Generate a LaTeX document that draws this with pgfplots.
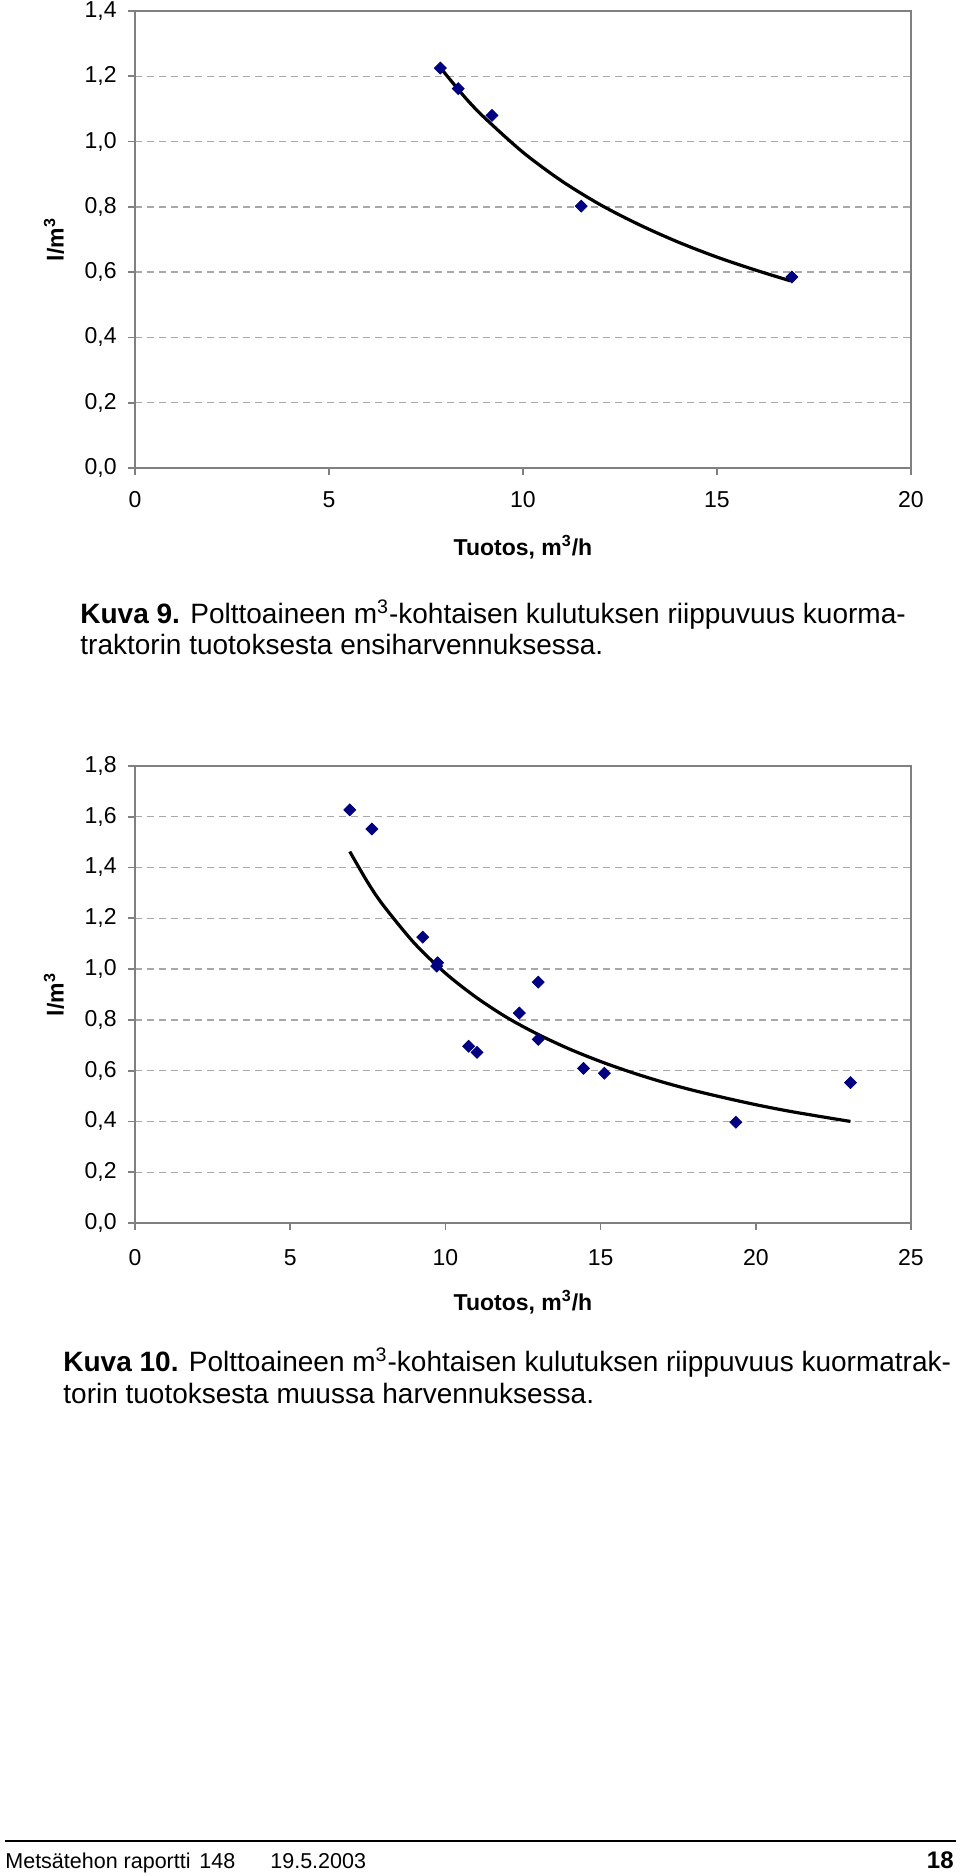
\documentclass[border=0pt]{standalone}
\usepackage{fontspec}
\setmainfont{Liberation Sans}
\usepackage{pgfplots}
\pgfplotsset{compat=1.18}
\definecolor{navy}{HTML}{000080}
\definecolor{axgray}{HTML}{808080}
\definecolor{gridgray}{HTML}{A8A8A8}

\newcommand{\lblfont}{\bfseries\fontsize{11.5}{13}\selectfont}

\pgfplotsset{excel/.style={
  scale only axis, width=388pt, height=228.5pt,
  axis line style={axgray, line width=0.85pt},
  every tick/.style={axgray, line width=0.85pt},
  tick align=outside, major tick length=3.5pt, tick pos=left,
  ymajorgrids, major grid style={gridgray, dash pattern=on 3.5pt off 2.5pt, line width=0.7pt},
  ymin=0, xmin=0,
  /pgf/number format/assume math mode=true,
  tick label style={font=\fontsize{11.5}{13}\selectfont},
  yticklabel style={anchor=east, inner sep=0pt, xshift=-5.5pt},
  xticklabel style={anchor=center, inner sep=0pt},
  xlabel={Tuotos, m\textsuperscript{3}/h},
  ylabel={l/m\textsuperscript{3}},
  every axis y label/.style={at={(axis description cs:-0.1044,0.5)}, rotate=90, anchor=center, font=\lblfont},
  clip=false,
}}

\pgfplotstableread{
x y
7.87 1.225
8.33 1.162
9.20 1.080
11.50 0.802
16.93 0.585
}\dataA
\pgfplotstableread{
x y
7.9 1.222
8.5 1.136
9 1.074
10 0.967
11 0.879
12 0.806
13 0.745
14 0.692
15 0.646
16 0.606
16.9 0.573
}\trendA
\pgfplotstableread{
x y
6.92 1.627
7.63 1.552
9.27 1.126
9.75 1.025
9.72 1.012
10.75 0.696
11.02 0.672
12.38 0.827
12.99 0.949
12.99 0.723
14.45 0.609
15.12 0.590
19.36 0.397
23.05 0.553
}\dataB
\pgfplotstableread{
x y
6.92 1.463
7.5 1.341
8 1.251
9 1.102
10 0.984
11 0.888
12 0.808
13 0.742
14 0.685
15 0.636
16 0.593
17 0.555
18 0.522
19 0.493
20 0.466
21 0.442
22 0.421
23.05 0.400
}\trendB

\begin{document}
\begin{tikzpicture}
\fill[white] (0,0) rectangle (480pt,938pt);
\path[use as bounding box] (0,0) rectangle (480pt,938pt);

% Top chart
\begin{axis}[excel, at={(67.5pt,704pt)}, anchor=south west,
  xmax=20, ymax=1.4,
  xtick={0,5,10,15,20},
  ytick={0,0.2,0.4,0.6,0.8,1.0,1.2,1.4},
  yticklabels={{0,0},{0,2},{0,4},{0,6},{0,8},{1,0},{1,2},{1,4}},
  xticklabel style={yshift=-12.5pt},
  every axis x label/.style={at={(axis description cs:0.5,-0.1732)}, anchor=center, font=\lblfont},
]
\addplot[black, line width=1.6pt, smooth] table[x=x,y=y] {\trendA};
\addplot[only marks, mark=square*, mark size=2.1pt, mark options={rotate=45, fill=navy, draw=navy}] table[x=x,y=y] {\dataA};
\end{axis}

% Bottom chart
\begin{axis}[excel, at={(67.5pt,326.5pt)}, anchor=south west,
  xmax=25, ymax=1.8,
  xtick={0,5,10,15,20,25},
  ytick={0,0.2,0.4,0.6,0.8,1.0,1.2,1.4,1.6,1.8},
  yticklabels={{0,0},{0,2},{0,4},{0,6},{0,8},{1,0},{1,2},{1,4},{1,6},{1,8}},
  xticklabel style={yshift=-14pt},
  every axis x label/.style={at={(axis description cs:0.5,-0.1729)}, anchor=center, font=\lblfont},
]
\addplot[black, line width=1.6pt, smooth] table[x=x,y=y] {\trendB};
\addplot[only marks, mark=square*, mark size=2.1pt, mark options={rotate=45, fill=navy, draw=navy}] table[x=x,y=y] {\dataB};
\end{axis}

% Captions
\begingroup
\fontsize{14}{15.5}\selectfont
\node[anchor=base west, inner sep=0pt] at (40pt,626pt) {\textbf{Kuva 9.} Polttoaineen m\textsuperscript{3}-kohtaisen kulutuksen riippuvuus kuorma-};
\node[anchor=base west, inner sep=0pt] at (40pt,610.5pt) {traktorin tuotoksesta ensiharvennuksessa.};
\node[anchor=base west, inner sep=0pt] at (31.5pt,252pt) {\textbf{Kuva 10.} Polttoaineen m\textsuperscript{3}-kohtaisen kulutuksen riippuvuus kuormatrak-};
\node[anchor=base west, inner sep=0pt] at (31.5pt,236pt) {torin tuotoksesta muussa harvennuksessa.};
\endgroup

% Footer
\draw[black, line width=1pt] (2.5pt,17.5pt) -- (478pt,17.5pt);
\node[anchor=base west, inner sep=0pt, font=\fontsize{10.75}{12}\selectfont] at (2.5pt,3.5pt) {Metsätehon raportti};
\node[anchor=base west, inner sep=0pt, font=\fontsize{10.75}{12}\selectfont] at (99.5pt,3.5pt) {148};
\node[anchor=base west, inner sep=0pt, font=\fontsize{10.75}{12}\selectfont] at (135pt,3.5pt) {19.5.2003};
\node[anchor=base east, inner sep=0pt, font=\bfseries\fontsize{12}{13}\selectfont] at (477pt,3.5pt) {18};
\end{tikzpicture}
\end{document}
